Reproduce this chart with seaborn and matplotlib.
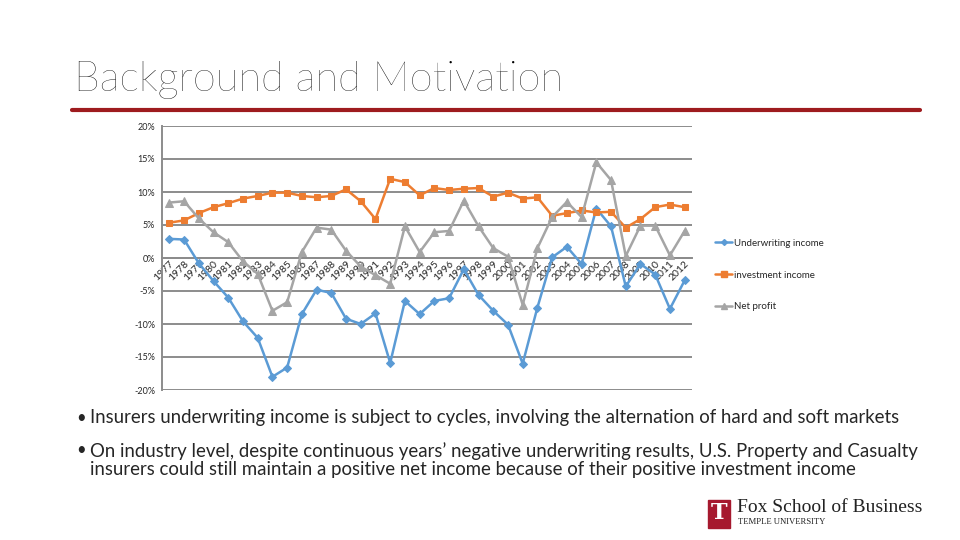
import numpy as np
import pandas as pd
import matplotlib
matplotlib.use("Agg")
import matplotlib.pyplot as plt
import seaborn as sns
from matplotlib.patches import Rectangle
from matplotlib.lines import Line2D

years = [str(y) for y in range(1977, 2013)]

underwriting = [2.9, 2.8, -0.8, -3.5, -6.0, -9.6, -12.1, -18.0, -16.6, -8.5,
                -4.8, -5.3, -9.2, -10.0, -8.4, -15.9, -6.5, -8.5, -6.5, -6.1,
                -1.7, -5.6, -8.0, -10.1, -16.0, -7.5, 0.1, 1.7, -0.9, 7.5,
                4.8, -4.3, -0.9, -2.5, -7.7, -3.4]
investment = [5.35, 5.7, 6.8, 7.7, 8.3, 9.0, 9.4, 9.9, 9.9, 9.4,
              9.2, 9.4, 10.4, 8.6, 5.9, 12.0, 11.5, 9.5, 10.6, 10.3,
              10.5, 10.6, 9.3, 9.9, 9.0, 9.2, 6.4, 6.8, 7.2, 6.9,
              7.0, 4.6, 5.9, 7.7, 8.1, 7.7]
net_profit = [8.4, 8.6, 6.0, 3.9, 2.4, -0.5, -2.4, -8.0, -6.7, 0.9,
              4.6, 4.3, 1.1, -1.3, -2.6, -3.9, 4.8, 0.9, 3.9, 4.1,
              8.7, 4.8, 1.5, 0.2, -7.1, 1.5, 6.2, 8.5, 6.2, 14.5,
              11.8, 0.3, 4.9, 4.9, 0.4, 4.1]

series_names = ["Underwriting income", "investment income", "Net profit"]
colors = ["#5B9BD5", "#ED7D31", "#A5A5A5"]
markers = ["D", "s", "^"]
msizes = [4, 5, 5.5]

df = pd.DataFrame({"idx": np.arange(len(years)),
                   series_names[0]: underwriting,
                   series_names[1]: investment,
                   series_names[2]: net_profit})
long = df.melt(id_vars="idx", var_name="series", value_name="value")

sns.set_style("white")
plt.rcParams['font.family'] = ['Lato', 'DejaVu Sans']

fig = plt.figure(figsize=(9.6, 5.4), dpi=100)
ax = fig.add_axes([162 / 960, 150 / 540, 530 / 960, 264 / 540])

for name, c, m, ms in zip(series_names, colors, markers, msizes):
    sub = long[long["series"] == name]
    sns.lineplot(data=sub, x="idx", y="value", ax=ax, color=c, marker=m,
                 markersize=ms, markeredgecolor=c, linewidth=1.8, zorder=3)

ax.set_xlim(-0.5, len(years) - 0.5)
ax.set_ylim(-20, 20)
ax.set_yticks(range(-20, 21, 5))
ax.set_yticklabels([f"{v}%" for v in range(-20, 21, 5)], fontsize=6.5)
ax.yaxis.grid(True, color="#8c8c8c", linewidth=1.4)
ax.set_axisbelow(True)
ax.set_xlabel("")
ax.set_ylabel("")

ax.spines["top"].set_visible(False)
ax.spines["right"].set_visible(False)
ax.spines["left"].set_color("#8c8c8c")
ax.spines["left"].set_linewidth(1.4)
ax.spines["bottom"].set_position(("data", 0))
ax.spines["bottom"].set_color("#8c8c8c")
ax.spines["bottom"].set_linewidth(1.4)
ax.tick_params(axis="y", length=3, color="#8c8c8c", pad=2)
ax.tick_params(axis="x", length=0, pad=1)
ax.set_xticks(np.arange(len(years)))
ax.set_xticklabels(years, fontsize=7.5, rotation=45, ha="right", va="top",
                   rotation_mode="anchor")

handles = [Line2D([0], [0], color=c, marker=m, markersize=ms - 1, linewidth=1.8)
           for c, m, ms in zip(colors, markers, msizes)]
fig.legend(handles, series_names, loc="upper left",
           bbox_to_anchor=(706 / 960, 1 - 230 / 540), frameon=False,
           fontsize=7, handlelength=1.8, handletextpad=0.2, labelspacing=2.35)

# slide decoration
fig.text(74 / 960, 1 - 80 / 540, "Background and Motivation", fontsize=30,
         fontweight="light", va="center", ha="left", color="black")
fig.add_artist(Line2D([72 / 960, 920 / 960], [1 - 110 / 540, 1 - 110 / 540],
                      color="#9E1B1E", linewidth=3))

fig.text(76 / 960, 1 - 418 / 540, "\u2022", fontsize=12, va="center")
fig.text(90 / 960, 1 - 418 / 540,
         "Insurers underwriting income is subject to cycles, involving the alternation of hard and soft markets",
         fontsize=13.4, va="center")
fig.text(76 / 960, 1 - 450 / 540, "\u2022", fontsize=12, va="center")
fig.text(90 / 960, 1 - 460 / 540,
         "On industry level, despite continuous years\u2019 negative underwriting results, U.S. Property and Casualty\n"
         "insurers could still maintain a positive net income because of their positive investment income",
         fontsize=13.4, va="center", linespacing=1.05)

fig.add_artist(Rectangle((708 / 960, 1 - 528 / 540), 22 / 960, 28 / 540,
                         color="#A6192E", transform=fig.transFigure))
fig.text(719 / 960, 1 - 513 / 540, "T", color="white", fontsize=16,
         family="DejaVu Serif", ha="center", va="center", fontweight="bold")
fig.text(737 / 960, 1 - 508 / 540, "Fox School of Business", fontsize=14,
         family="Liberation Serif", va="center", color="#222222")
fig.text(738 / 960, 1 - 522 / 540, "TEMPLE UNIVERSITY", fontsize=6.2,
         family="Liberation Serif", va="center", color="#222222")

fig.savefig("out.png", dpi=100)
